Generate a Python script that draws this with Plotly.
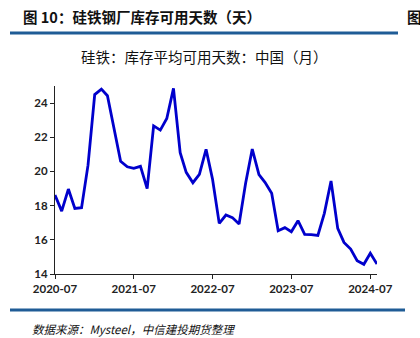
import pandas as pd
import plotly.graph_objects as go

# Monthly ferrosilicon inventory days at steel mills, China
months = pd.date_range("2020-07-01", "2024-08-01", freq="MS")
days = [
    18.62, 17.68, 18.97, 17.84, 17.88, 20.37, 24.50, 24.82, 24.43, 22.50,
    20.60, 20.27, 20.18, 20.30, 19.00, 22.67, 22.42, 23.10, 24.86, 21.10,
    19.95, 19.34, 19.83, 21.29, 19.54, 16.96, 17.45, 17.30, 16.92, 19.30,
    21.31, 19.81, 19.36, 18.72, 16.53, 16.71, 16.47, 17.12, 16.32, 16.30,
    16.26, 17.55, 19.44, 16.67, 15.85, 15.46, 14.78, 14.57, 15.21, 14.58,
]
x_ticks = ["2020-07-01", "2021-07-01", "2022-07-01", "2023-07-01", "2024-07-01"]
x_tick_labels = ["2020-07", "2021-07", "2022-07", "2023-07", "2024-07"]
y_ticks = [14, 16, 18, 20, 22, 24]

W, H = 420, 338
L, R, T, B = 55, 43, 86, 64
pw, ph = W - L - R, H - T - B


def px(xp):
    return (xp - L) / pw


def py(yp):
    return (H - B - yp) / ph


cjk = "Noto Sans CJK SC"
rule = "#1F5C96"

fig = go.Figure()
fig.add_trace(go.Scatter(
    x=months, y=days, mode="lines",
    line=dict(color="#0000CC", width=2.8),
    hoverinfo="skip", showlegend=False,
))

fig.update_layout(
    width=W, height=H,
    margin=dict(l=L, r=R, t=T, b=B),
    paper_bgcolor="white", plot_bgcolor="white",
    font=dict(family="Lato", color="#222222"),
    xaxis=dict(
        range=[months[0], months[-1]],
        tickvals=x_ticks, ticktext=x_tick_labels,
        showgrid=False, zeroline=False,
        showline=True, linecolor="#222222", linewidth=1.2,
        ticks="outside", ticklen=4, tickcolor="#222222",
        tickfont=dict(size=11.5, family="Lato", weight="bold", color="#222222"),
    ),
    yaxis=dict(
        range=[14, 25],
        tickvals=y_ticks,
        showgrid=False, zeroline=False,
        showline=True, linecolor="#222222", linewidth=1.2,
        ticks="outside", ticklen=4, tickcolor="#222222",
        tickfont=dict(size=11.5, family="Lato", weight="bold", color="#222222"),
    ),
    shapes=[
        dict(type="line", xref="paper", yref="paper",
             x0=px(10), x1=px(398), y0=py(33), y1=py(33),
             line=dict(color=rule, width=3)),
        dict(type="line", xref="paper", yref="paper",
             x0=px(10), x1=px(405), y0=py(310), y1=py(310),
             line=dict(color=rule, width=3)),
    ],
    annotations=[
        dict(text="图 10：硅铁钢厂库存可用天数（天）", xref="paper", yref="paper",
             x=px(21), y=py(16), xanchor="left", yanchor="middle", showarrow=False,
             font=dict(family=cjk, size=14.5, weight="bold", color="#111111")),
        dict(text="图", xref="paper", yref="paper",
             x=px(405), y=py(16), xanchor="left", yanchor="middle", showarrow=False,
             font=dict(family=cjk, size=14.5, weight="bold", color="#111111")),
        dict(text="硅铁：库存平均可用天数：中国（月）", xref="paper", yref="paper",
             x=px(204), y=py(57), xanchor="center", yanchor="middle", showarrow=False,
             font=dict(family=cjk, size=14.5, color="#111111")),
        dict(text="数据来源：Mysteel，中信建投期货整理", xref="paper", yref="paper",
             x=px(30), y=py(329), xanchor="left", yanchor="middle", showarrow=False,
             font=dict(family=cjk, size=11.5, style="italic", color="#111111")),
    ],
)

fig.write_html("out.html")
